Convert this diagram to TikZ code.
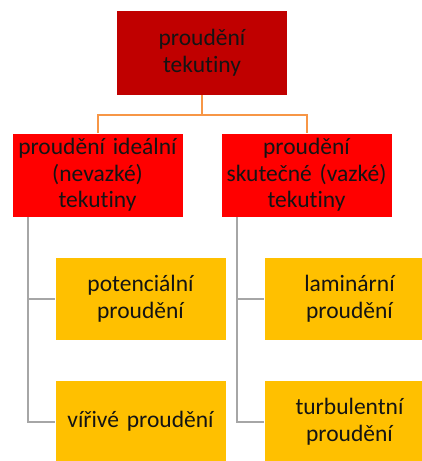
\documentclass[tikz,border=0pt]{standalone}
\usepackage{fontspec}
\setmainfont[RawFeature=-liga,WordSpace=0.8]{Carlito}
\definecolor{darkred}{HTML}{C00000}
\definecolor{brightred}{HTML}{FF0000}
\definecolor{gold}{HTML}{FFC000}
\definecolor{orangeline}{HTML}{F79646}
\definecolor{grayline}{HTML}{A6A6A6}
\definecolor{txt}{HTML}{141414}
\tikzset{
  box/.style={draw=white, line width=0.6pt, minimum width=171pt, text width=169pt, align=center, inner sep=0pt, font=\fontsize{23.5}{26.5}\selectfont, text=txt},
  topbox/.style={box, fill=darkred, minimum height=85pt},
  midbox/.style={box, fill=brightred, minimum height=84pt},
  leafbox/.style={box, fill=gold, minimum height=83pt},
  oline/.style={draw=orangeline, line width=2pt},
  gline/.style={draw=grayline, line width=2pt},
}
\begin{document}
\begin{tikzpicture}[x=1pt,y=-1pt]
\useasboundingbox (0,0) rectangle (422,461);
\clip (0,0) rectangle (422,461);
\node[topbox] (top) at (202,52.5) {proudění\\tekutiny};
\node[midbox] (l) at (97.5,175) {proudění ideální\\(nevazké)\\tekutiny};
\node[midbox] (r) at (306.5,175) {proudění\\skutečné (vazké)\\tekutiny};
\node[leafbox] (l1) at (140.5,298.5) {potenciální\\proudění};
\node[leafbox] (l2) at (140.5,421.5) {vířivé proudění};
\node[leafbox] (r1) at (349.5,298.5) {laminární\\proudění};
\node[leafbox] (r2) at (349.5,421.5) {turbulentní\\proudění};
\coordinate (jt) at (202,115);
\draw[oline] (top.south) -- (jt);
\draw[oline] (l.north) |- (jt) -| (r.north);
\coordinate (lg) at (28,217);
\coordinate (rg) at (237,217);
\draw[gline] (lg |- l.south) |- (l2.west);
\draw[gline] (lg |- l1.west) -- (l1.west);
\draw[gline] (rg |- r.south) |- (r2.west);
\draw[gline] (rg |- r1.west) -- (r1.west);
\end{tikzpicture}
\end{document}
